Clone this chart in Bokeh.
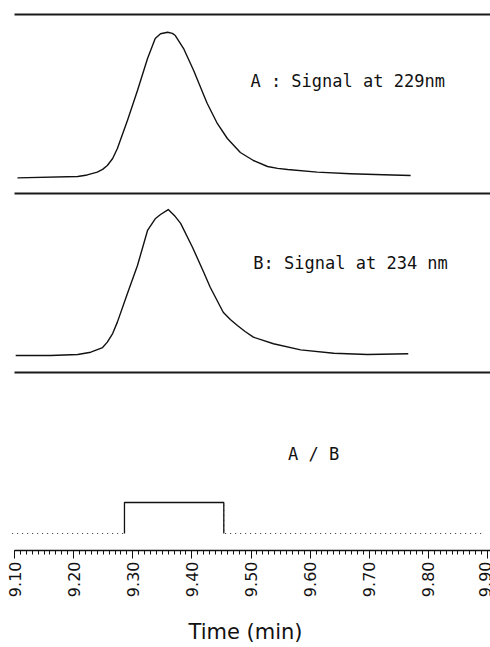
import math
from bokeh.plotting import figure
from bokeh.models import Range1d, FixedTicker, Label, NumeralTickFormatter
from bokeh.embed import file_html
from bokeh.resources import INLINE

# ---------------- data ----------------
# Panel A: signal at 229 nm (relative units, peak = 100)
TIME_A = [9.105, 9.207, 9.223, 9.240, 9.249, 9.257, 9.266, 9.274, 9.291, 9.308,
          9.325, 9.338, 9.347, 9.359, 9.367, 9.372, 9.386, 9.403, 9.420, 9.426,
          9.443, 9.460, 9.482, 9.504, 9.528, 9.545, 9.562, 9.612, 9.668, 9.724,
          9.770]
SIGNAL_A = [0.1, 1.0, 2.1, 4.0, 5.9, 8.6, 13.4, 20.2, 39.4, 60.0,
            82.0, 95.7, 98.9, 100.0, 99.2, 97.7, 88.8, 73.7, 57.0, 51.1,
            37.4, 27.1, 17.5, 12.0, 7.9, 6.6, 5.8, 4.0, 2.9, 2.2,
            1.7]

# Panel B: signal at 234 nm (relative units, peak = 100)
TIME_B = [9.102, 9.161, 9.207, 9.229, 9.249, 9.257, 9.266, 9.274, 9.291, 9.308,
          9.325, 9.338, 9.347, 9.360, 9.372, 9.381, 9.401, 9.420, 9.431, 9.453,
          9.465, 9.477, 9.490, 9.504, 9.538, 9.584, 9.640, 9.697, 9.766]
SIGNAL_B = [0.3, 0.3, 1.0, 2.6, 5.8, 9.5, 15.4, 23.2, 42.8, 62.0,
            86.0, 94.0, 96.9, 100.3, 95.5, 90.8, 74.5, 57.4, 47.1, 30.0,
            25.0, 20.9, 16.8, 12.9, 8.4, 4.2, 1.9, 1.0, 1.5]

# Panel A/B: ratio window (1 = inside window)
RATIO_TIME = [9.096, 9.286, 9.286, 9.454, 9.454, 9.896]
RATIO_FLAG = [0, 0, 1, 1, 0, 0]

TICKS = [9.1, 9.2, 9.3, 9.4, 9.5, 9.6, 9.7, 9.8, 9.9]
TICK_LABELS = ["9.10", "9.20", "9.30", "9.40", "9.50", "9.60", "9.70", "9.80", "9.90"]
LABEL_A = "A : Signal at 229nm"
LABEL_B = "B: Signal at 234 nm"
LABEL_RATIO = "A / B"
X_TITLE = "Time (min)"

# ---------------- layout ----------------
W, H = 490, 647
FRAME_H = 550
PX_PER_MIN = 591.25
X0_PX = 14  # pixel of first tick
x_start = TICKS[0] - X0_PX / PX_PER_MIN
x_end = x_start + W / PX_PER_MIN


def panel_range(base_px, px_per_unit):
    return Range1d((base_px - FRAME_H) / px_per_unit, base_px / px_per_unit)


FONT = "DejaVu Sans"
LABEL_FONT = "DejaVu Sans Mono"

p = figure(width=W, height=H, output_backend="svg", toolbar_location=None,
           x_range=Range1d(x_start, x_end), y_range=panel_range(533, 31),
           min_border_left=0, min_border_right=0, min_border_top=0,
           min_border_bottom=H - FRAME_H)
p.extra_y_ranges = {
    "A": panel_range(177.5, 1.458),
    "B": panel_range(355.5, 1.46),
    "px": Range1d(FRAME_H, 0),
}
p.yaxis.visible = False
p.xgrid.visible = False
p.ygrid.visible = False
p.outline_line_color = None
p.background_fill_color = "white"
p.border_fill_color = "white"

# panel separators
sep = [14, 193, 372]
p.segment(x0=[TICKS[0]] * 3, x1=[x_end] * 3, y0=sep, y1=sep, y_range_name="px",
          line_color="#1a1a1a", line_width=1.8)

# signals
p.line(TIME_A, SIGNAL_A, y_range_name="A", line_color="#111111", line_width=1.4,
       line_join="round")
p.line(TIME_B, SIGNAL_B, y_range_name="B", line_color="#111111", line_width=1.4,
       line_join="round")

# ratio trace
p.line(RATIO_TIME, RATIO_FLAG, line_color="#333333", line_width=1, line_dash="1 4")
p.line(RATIO_TIME[1:5], RATIO_FLAG[1:5], line_color="#111111", line_width=1.3)

# labels
for txt, xx, yy, align in [(LABEL_A, 9.499, 80, "left"),
                           (LABEL_B, 9.504, 262, "left"),
                           (LABEL_RATIO, 9.606, 453, "center")]:
    p.add_layout(Label(x=xx, y=yy, y_range_name="px", text=txt, text_font=LABEL_FONT,
                       text_font_size="17px", text_baseline="middle",
                       text_align=align, text_color="#111111"))

# axis
ax = p.xaxis[0]
ax.ticker = FixedTicker(ticks=TICKS,
                        minor_ticks=[round(TICKS[0] + 0.01 * i, 2) for i in range(81)])
ax.formatter = NumeralTickFormatter(format="0.00")
ax.major_label_overrides = {t: lab for t, lab in zip(TICKS, TICK_LABELS)}
ax.bounds = (TICKS[0], x_end)
ax.axis_line_color = "#111111"
ax.axis_line_width = 1.5
ax.major_tick_in = 0
ax.major_tick_out = 8
ax.minor_tick_in = 0
ax.minor_tick_out = 4
ax.major_tick_line_color = "#111111"
ax.minor_tick_line_color = "#111111"
ax.major_label_orientation = math.pi / 2
ax.major_label_standoff = 3
ax.major_label_text_font = FONT
ax.major_label_text_font_size = "16px"
ax.major_label_text_color = "#111111"
ax.axis_label = X_TITLE
ax.axis_label_text_font = FONT
ax.axis_label_text_font_size = "21px"
ax.axis_label_text_font_style = "normal"
ax.axis_label_text_color = "#111111"
ax.axis_label_standoff = 20

open("out.html", "w").write(file_html(p, INLINE))
